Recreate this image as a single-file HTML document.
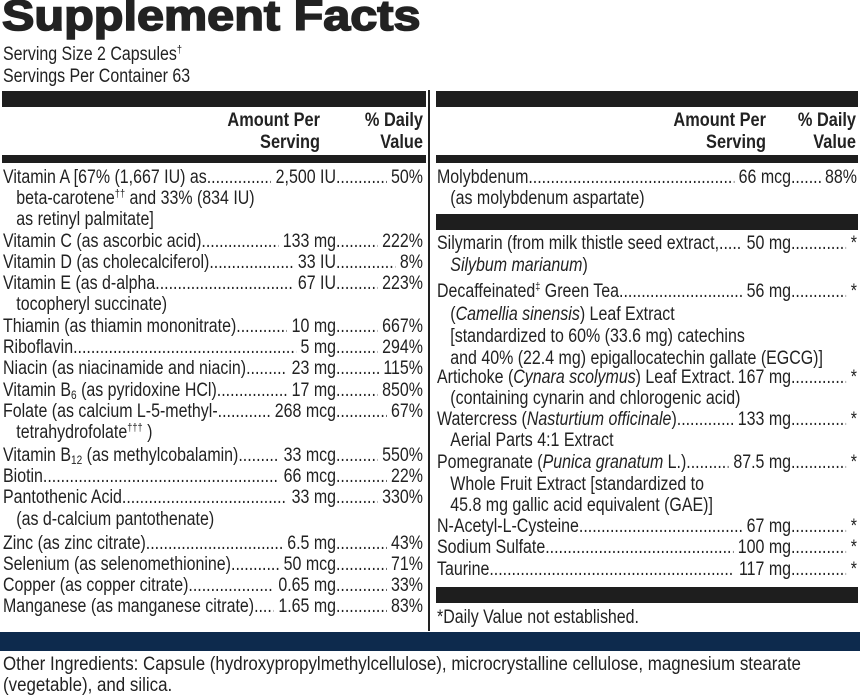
<!DOCTYPE html>
<html><head><meta charset="utf-8"><style>
*{margin:0;padding:0;box-sizing:border-box}
body{width:860px;height:700px;background:#fff;position:relative;overflow:hidden;font-family:"Liberation Sans",sans-serif;color:#222;font-size:16.5px}
.abs{position:absolute}
.title{left:2px;top:-8px;font-weight:900;font-size:43px;white-space:nowrap;-webkit-text-stroke:1.6px #222;color:#222;transform:scaleX(1.13);transform-origin:left top}
.bar{background:#1e1e1e}
.row{position:absolute;display:flex;white-space:nowrap;line-height:21px;height:21px;font-size:19px;transform:scaleX(0.84);transform-origin:left top}
.l{display:flex;overflow:hidden}
.dots{flex:1;overflow:hidden;white-space:nowrap}
.dots::after{content:"...................................................................................................................................................................";}
.rl{display:flex;overflow:hidden;flex:1}
.hdr{font-weight:bold;text-align:right;line-height:22px;font-size:19px;transform:scaleX(0.86);transform-origin:right top}
.sm{font-size:19px;transform:scaleX(0.84);transform-origin:left top;white-space:nowrap;line-height:21px}
sub{font-size:12px;vertical-align:-3px;line-height:0}
sup{font-size:11px;vertical-align:7px;line-height:0}
</style></head><body>
<div class="abs title">Supplement Facts</div>
<div class="abs sm" style="left:3px;top:44px">Serving Size 2 Capsules<sup>†</sup></div>
<div class="abs sm" style="left:3px;top:66px">Servings Per Container 63</div>
<div class="abs bar" style="left:2px;top:91px;width:424px;height:16px"></div>
<div class="abs bar" style="left:436px;top:91px;width:422px;height:16px"></div>
<div class="abs" style="left:428px;top:90px;width:2px;height:541px;background:#222"></div>
<div class="abs hdr" style="left:180px;top:110px;width:140px">Amount Per<br>Serving</div>
<div class="abs hdr" style="left:323px;top:110px;width:100px">% Daily<br>Value</div>
<div class="abs hdr" style="left:626px;top:110px;width:140px">Amount Per<br>Serving</div>
<div class="abs hdr" style="left:756px;top:110px;width:100px">% Daily<br>Value</div>
<div class="abs bar" style="left:2px;top:155px;width:424px;height:8px"></div>
<div class="abs bar" style="left:436px;top:155px;width:422px;height:8px"></div>
<div class="abs bar" style="left:436px;top:214px;width:422px;height:16px"></div>
<div class="abs bar" style="left:436px;top:587px;width:422px;height:16px"></div>
<div class="abs sm" style="left:437px;top:607px">*Daily Value not established.</div>
<div class="abs" style="left:0;top:632px;width:860px;height:19px;background:#0d2a4d"></div>
<div class="abs sm" style="left:3px;top:654px;transform:scaleX(0.89)">Other Ingredients: Capsule (hydroxypropylmethylcellulose), microcrystalline cellulose, magnesium stearate<br>(vegetable), and silica.</div>
<div id="rows"></div>
<script>
const leftRows=[
[168,'Vitamin A [67% (1,667 IU) as','2,500 IU','50%'],
[189,'&nbsp;&nbsp;&nbsp;beta-carotene<sup>††</sup> and 33% (834 IU)'],
[210,'&nbsp;&nbsp;&nbsp;as retinyl palmitate]'],
[232,'Vitamin C (as ascorbic acid)','133 mg','222%'],
[253,'Vitamin D (as cholecalciferol)','33 IU','8%'],
[274,'Vitamin E (as d-alpha','67 IU','223%'],
[295,'&nbsp;&nbsp;&nbsp;tocopheryl succinate)'],
[317,'Thiamin (as thiamin mononitrate) ','10 mg','667%'],
[338,'Riboflavin','5 mg','294%'],
[359,'Niacin (as niacinamide and niacin)','23 mg','115%'],
[381,'Vitamin B<sub>6</sub> (as pyridoxine HCl)','17 mg','850%'],
[402,'Folate (as calcium L-5-methyl-','268 mcg','67%'],
[423,'&nbsp;&nbsp;&nbsp;tetrahydrofolate<sup>†††</sup> )'],
[446,'Vitamin B<sub>12</sub> (as methylcobalamin)','33 mcg','550%'],
[467,'Biotin','66 mcg','22%'],
[488,'Pantothenic Acid','33 mg','330%'],
[510,'&nbsp;&nbsp;&nbsp;(as d-calcium pantothenate)'],
[534,'Zinc (as zinc citrate) ','6.5 mg','43%'],
[555,'Selenium (as selenomethionine)','50 mcg','71%'],
[576,'Copper (as copper citrate)','0.65 mg','33%'],
[597,'Manganese (as manganese citrate) ','1.65 mg','83%']];
const rightRows=[
[168,'Molybdenum','66 mcg','88%'],
[189,'&nbsp;&nbsp;&nbsp;(as molybdenum aspartate)'],
[234,'Silymarin (from milk thistle seed extract,','50 mg','*'],
[256,'&nbsp;&nbsp;&nbsp;<i>Silybum marianum</i>)'],
[282,'Decaffeinated<sup>‡</sup> Green Tea','56 mg','*'],
[305,'&nbsp;&nbsp;&nbsp;(<i>Camellia sinensis</i>) Leaf Extract'],
[327,'&nbsp;&nbsp;&nbsp;[standardized to 60% (33.6 mg) catechins'],
[349,'&nbsp;&nbsp;&nbsp;and 40% (22.4 mg) epigallocatechin gallate (EGCG)]'],
[368,'Artichoke (<i>Cynara scolymus</i>) Leaf Extract','167 mg','*'],
[389,'&nbsp;&nbsp;&nbsp;(containing cynarin and chlorogenic acid)'],
[410,'Watercress (<i>Nasturtium officinale</i>)','133 mg','*'],
[431,'&nbsp;&nbsp;&nbsp;Aerial Parts 4:1 Extract'],
[453,'Pomegranate (<i>Punica granatum</i> L.) ','87.5 mg','*'],
[475,'&nbsp;&nbsp;&nbsp;Whole Fruit Extract [standardized to'],
[496,'&nbsp;&nbsp;&nbsp;45.8 mg gallic acid equivalent (GAE)]'],
[517,'N-Acetyl-L-Cysteine','67 mg','*'],
[538,'Sodium Sulfate ','100 mg','*'],
[560,'Taurine ','117 mg','*']];
const S=0.84;
const root=document.getElementById('rows');
function build(rows,x0,amtEnd,x1,side){
  rows.forEach((r)=>{
    const d=document.createElement('div');
    d.className='row';
    
    
    d.style.left=x0+'px';d.style.top=(r[0]-1)+'px';d.style.width=((x1-x0)/S)+'px';
    if(r[2]){
      d.innerHTML='<div class="l" style="width:'+((amtEnd-x0)/S)+'px"><span>'+r[1]+'</span><span class="dots"></span><span>&nbsp;'+r[2]+'</span></div><div class="rl"><span class="dots"></span><span>&nbsp;'+r[3]+'</span></div>';
    } else d.innerHTML='<span>'+r[1]+'</span>';
    root.appendChild(d);
  });
}
build(leftRows,3,336,423,'left');
build(rightRows,437,791,857,'right');
</script>
</body></html>
